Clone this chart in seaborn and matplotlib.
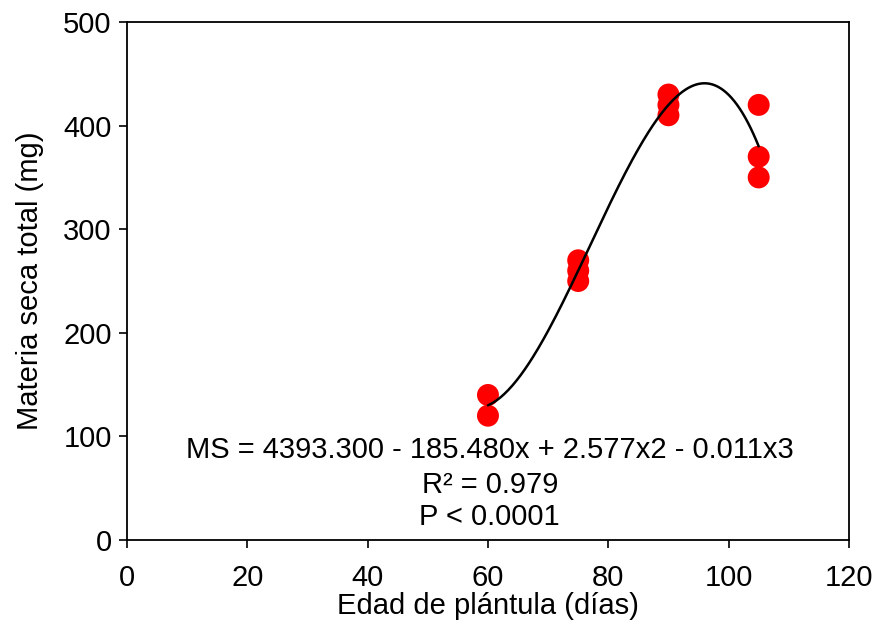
import numpy as np
import pandas as pd
import matplotlib
matplotlib.use("Agg")
import matplotlib.pyplot as plt
import seaborn as sns

edad = [60, 60, 75, 75, 75, 90, 90, 90, 105, 105, 105]
materia = [140, 120, 270, 260, 250, 430, 420, 410, 420, 370, 350]
x_ticks = [0, 20, 40, 60, 80, 100, 120]
y_ticks = [0, 100, 200, 300, 400, 500]
eq_lines = ["MS = 4393.300 - 185.480x + 2.577x2 - 0.011x3", "R² = 0.979", "P < 0.0001"]

sns.set_theme(style="white")
plt.rcParams['font.family'] = ['Liberation Sans', 'DejaVu Sans']

df = pd.DataFrame({"edad": edad, "materia": materia})

fig = plt.figure(figsize=(8.77, 6.24), dpi=100)
ax = fig.add_axes([0.1448, 0.1346, 0.968 - 0.1448, 0.9647 - 0.1346])

sns.scatterplot(data=df, x="edad", y="materia", ax=ax, color="#ff0000",
                s=250, edgecolor="none", zorder=3)

coef = np.polyfit(df["edad"], df["materia"], 3)
xs = np.linspace(60, 105, 200)
ys = np.polyval(coef, xs)
sns.lineplot(x=xs, y=ys, ax=ax, color="black", linewidth=1.8, zorder=4)

ax.set_xlim(0, 120)
ax.set_ylim(0, 500)
ax.set_xticks(x_ticks)
ax.set_yticks(y_ticks)
ax.tick_params(axis="both", direction="out", length=6, width=1.2, labelsize=21,
               colors="black", bottom=True, left=True, pad=5)
ax.tick_params(axis="x", pad=11)
for sp in ax.spines.values():
    sp.set_color("black")
    sp.set_linewidth(1.3)
    sp.set_visible(True)

ax.set_xlabel("Edad de plántula (días)", fontsize=21, color="black", labelpad=0)
ax.set_ylabel("Materia seca total (mg)", fontsize=21, color="black", labelpad=14)

for txt, yv in zip(eq_lines, [86.9, 53, 22]):
    ax.text(60.3, yv, txt, ha="center", va="center", fontsize=21, color="black")

fig.savefig("out.png", dpi=100)
